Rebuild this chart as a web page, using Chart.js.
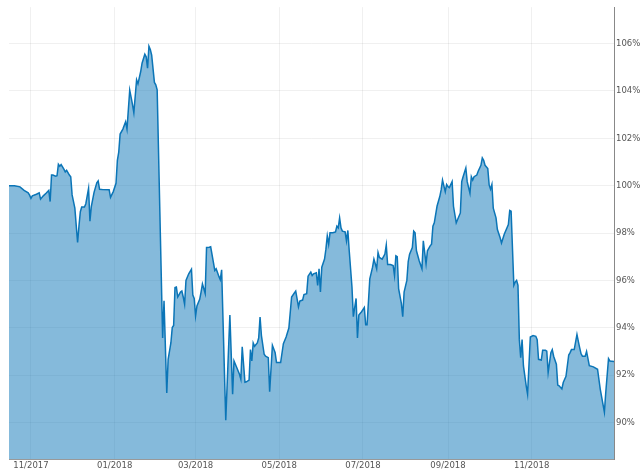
<!DOCTYPE html>
<html>
<head>
<meta charset="utf-8">
<script src="https://cdn.jsdelivr.net/npm/chart.js@4/dist/chart.umd.min.js"></script>
<style>
  html, body { margin: 0; padding: 0; background: #fff; }
  #wrap { width: 640px; height: 474px; }
</style>
</head>
<body>
<div id="wrap"><canvas id="chart" width="640" height="474"></canvas></div>
<script>
// daily index values (start = 100%)
const dates = [
    '2017-10-16','2017-10-20','2017-10-24','2017-10-27','2017-10-30','2017-10-31','2017-11-01','2017-11-02','2017-11-05','2017-11-07',
    '2017-11-08','2017-11-10','2017-11-12','2017-11-14','2017-11-15','2017-11-16','2017-11-17','2017-11-19','2017-11-20','2017-11-21',
    '2017-11-22','2017-11-23','2017-11-25','2017-11-26','2017-11-27','2017-11-29','2017-11-30','2017-12-01','2017-12-03','2017-12-05',
    '2017-12-06','2017-12-07','2017-12-08','2017-12-10','2017-12-11','2017-12-13','2017-12-14','2017-12-15','2017-12-17','2017-12-19',
    '2017-12-20','2017-12-21','2017-12-23','2017-12-28','2017-12-29','2017-12-31','2018-01-02','2018-01-03','2018-01-04','2018-01-05',
    '2018-01-07','2018-01-09','2018-01-10','2018-01-12','2018-01-14','2018-01-15','2018-01-17','2018-01-18','2018-01-20','2018-01-21',
    '2018-01-23','2018-01-24','2018-01-25','2018-01-26','2018-01-27','2018-01-28','2018-01-30','2018-01-31','2018-02-01','2018-02-05',
    '2018-02-06','2018-02-08','2018-02-09','2018-02-11','2018-02-12','2018-02-13','2018-02-14','2018-02-15','2018-02-16','2018-02-18',
    '2018-02-19','2018-02-20','2018-02-21','2018-02-22','2018-02-24','2018-02-26','2018-02-27','2018-02-28','2018-03-01','2018-03-02',
    '2018-03-04','2018-03-05','2018-03-06','2018-03-08','2018-03-09','2018-03-11','2018-03-12','2018-03-14','2018-03-15','2018-03-16',
    '2018-03-18','2018-03-19','2018-03-20','2018-03-23','2018-03-26','2018-03-28','2018-03-29','2018-03-31','2018-04-02','2018-04-03',
    '2018-04-04','2018-04-06','2018-04-07','2018-04-09','2018-04-10','2018-04-11','2018-04-12','2018-04-13','2018-04-15','2018-04-16',
    '2018-04-17','2018-04-18','2018-04-20','2018-04-21','2018-04-23','2018-04-24','2018-04-26','2018-04-28','2018-04-29','2018-05-02',
    '2018-05-04','2018-05-06','2018-05-08','2018-05-10','2018-05-12','2018-05-13','2018-05-15','2018-05-16','2018-05-18','2018-05-19',
    '2018-05-21','2018-05-22','2018-05-24','2018-05-25','2018-05-26','2018-05-28','2018-05-29','2018-05-30','2018-05-31','2018-06-01',
    '2018-06-03','2018-06-04','2018-06-05','2018-06-06','2018-06-07','2018-06-09','2018-06-11','2018-06-12','2018-06-13','2018-06-14',
    '2018-06-15','2018-06-16','2018-06-18','2018-06-19','2018-06-20','2018-06-21','2018-06-23','2018-06-24','2018-06-26','2018-06-27',
    '2018-06-28','2018-06-30','2018-07-02','2018-07-03','2018-07-04','2018-07-06','2018-07-08','2018-07-09','2018-07-11','2018-07-12',
    '2018-07-13','2018-07-15','2018-07-17','2018-07-18','2018-07-19','2018-07-21','2018-07-23','2018-07-24','2018-07-25','2018-07-26',
    '2018-07-27','2018-07-29','2018-07-30','2018-07-31','2018-08-02','2018-08-03','2018-08-04','2018-08-06','2018-08-07','2018-08-08',
    '2018-08-09','2018-08-11','2018-08-13','2018-08-14','2018-08-16','2018-08-17','2018-08-19','2018-08-20','2018-08-21','2018-08-22',
    '2018-08-24','2018-08-26','2018-08-27','2018-08-28','2018-08-30','2018-08-31','2018-09-01','2018-09-02','2018-09-04','2018-09-05',
    '2018-09-07','2018-09-08','2018-09-10','2018-09-11','2018-09-12','2018-09-14','2018-09-15','2018-09-17','2018-09-18','2018-09-19',
    '2018-09-20','2018-09-22','2018-09-23','2018-09-25','2018-09-26','2018-09-27','2018-09-28','2018-09-30','2018-10-01','2018-10-02',
    '2018-10-03','2018-10-04','2018-10-06','2018-10-07','2018-10-09','2018-10-10','2018-10-12','2018-10-15','2018-10-16','2018-10-17',
    '2018-10-19','2018-10-20','2018-10-21','2018-10-22','2018-10-23','2018-10-24','2018-10-25','2018-10-26','2018-10-28','2018-10-29',
    '2018-10-31','2018-11-02','2018-11-04','2018-11-05','2018-11-06','2018-11-08','2018-11-09','2018-11-11','2018-11-12','2018-11-13',
    '2018-11-15','2018-11-16','2018-11-17','2018-11-19','2018-11-20','2018-11-21','2018-11-23','2018-11-24','2018-11-26','2018-11-28',
    '2018-11-29','2018-11-30','2018-12-01','2018-12-02','2018-12-04','2018-12-05','2018-12-06','2018-12-07','2018-12-08','2018-12-10',
    '2018-12-11','2018-12-13','2018-12-16','2018-12-19','2018-12-21','2018-12-24','2018-12-25','2018-12-27','2018-12-28','2018-12-31'
];
const values = [
    100.00,100.00,99.95,99.80,99.70,99.60,99.47,99.57,99.64,99.70,
    99.43,99.57,99.68,99.80,99.33,100.45,100.45,100.40,100.42,100.90,
    100.82,100.89,100.70,100.58,100.65,100.45,100.38,99.61,99.05,97.60,
    98.30,98.90,99.10,99.10,99.24,99.89,98.50,99.12,99.72,100.12,
    100.20,99.85,99.84,99.83,99.51,99.75,100.10,101.07,101.42,102.18,
    102.39,102.70,102.39,104.03,103.43,103.08,104.47,104.30,104.82,105.17,
    105.55,105.44,104.96,105.89,105.75,105.51,104.36,104.26,104.05,93.57,
    95.14,91.25,92.67,93.36,94.01,94.10,95.70,95.72,95.30,95.51,
    95.55,95.30,95.00,96.00,96.28,96.47,95.38,95.24,94.50,94.92,
    95.20,95.51,95.85,95.45,97.39,97.40,97.42,96.76,96.42,96.49,
    96.17,96.03,96.45,90.10,94.54,91.20,92.60,92.32,92.04,91.83,
    93.20,91.70,91.72,91.79,93.08,92.60,93.36,93.22,93.36,93.57,
    94.45,93.67,92.88,92.80,92.74,91.30,93.26,92.95,92.53,92.53,
    93.33,93.61,93.99,95.30,95.47,95.55,94.89,95.13,95.17,95.40,
    95.44,96.18,96.35,96.21,96.28,96.32,95.79,96.49,95.51,96.56,
    96.90,97.32,97.88,97.53,98.01,98.01,98.05,98.29,98.22,98.64,
    98.22,98.08,98.05,97.67,98.11,97.25,95.72,94.47,95.24,93.57,
    94.54,94.68,94.86,94.13,94.13,96.07,96.56,96.90,96.49,97.18,
    96.97,96.90,97.11,97.49,96.67,96.67,96.63,96.21,97.04,97.00,
    95.65,95.03,94.47,95.51,96.00,96.80,97.11,97.39,98.08,98.01,
    97.25,96.83,96.49,97.67,96.70,97.25,97.46,97.53,98.29,98.43,
    99.13,99.54,99.82,100.24,99.75,100.05,99.96,99.92,100.17,99.13,
    98.43,98.57,98.85,100.17,100.38,100.75,100.17,99.68,100.38,100.24,
    100.38,100.45,100.61,100.86,101.17,101.07,100.86,100.72,100.03,99.85,
    100.05,99.05,98.64,98.15,97.80,97.58,97.95,98.36,98.95,98.92,
    95.79,95.93,96.00,95.79,93.50,92.74,93.50,92.39,91.55,91.20,
    93.61,93.67,93.64,93.50,92.67,92.64,93.05,93.05,93.01,92.11,
    92.95,93.08,92.80,92.46,91.58,91.55,91.42,91.69,91.95,92.85,
    92.95,93.08,93.08,93.08,93.72,93.43,93.15,92.90,92.80,92.80,
    93.00,92.40,92.35,92.25,91.40,90.44,91.28,92.70,92.60,92.58
];

const firstDate = '2017-10-16';
const lastDate = '2018-12-31';
const tickDates = ['2017-11-01', '2018-01-01', '2018-03-01', '2018-05-01', '2018-07-01', '2018-09-01', '2018-11-01'];
const tickLabels = ['11/2017', '01/2018', '03/2018', '05/2018', '07/2018', '09/2018', '11/2018'];
const yTicks = [90, 92, 94, 96, 98, 100, 102, 104, 106];

function toTime(s) {
    const p = s.split('-');
    return Date.UTC(+p[0], +p[1] - 1, +p[2]);
}

const points = dates.map((d, i) => ({ x: toTime(d), y: values[i] }));

const lineColor = 'rgb(11, 117, 183)';
const fillColor = 'rgba(11, 117, 183, 0.5)';
const tickFont = { family: 'DejaVu Sans', size: 8.5 };

new Chart(document.getElementById('chart').getContext('2d'), {
    type: 'line',
    data: {
        datasets: [{
            data: points,
            borderColor: lineColor,
            backgroundColor: fillColor,
            borderWidth: 1.5,
            fill: 'start',
            pointRadius: 0,
            tension: 0
        }]
    },
    options: {
        responsive: false,
        animation: false,
        layout: { padding: { left: 9, top: 3, right: 0, bottom: 0 } },
        plugins: {
            legend: { display: false },
            tooltip: { enabled: false }
        },
        scales: {
            x: {
                type: 'linear',
                min: toTime(firstDate),
                max: toTime(lastDate),
                afterBuildTicks: (scale) => {
                    scale.ticks = tickDates.map(d => ({ value: toTime(d) }));
                },
                afterFit: (scale) => { scale.height = 15; },
                ticks: {
                    autoSkip: false,
                    maxRotation: 0,
                    padding: 2,
                    color: '#555',
                    font: tickFont,
                    callback: (value, index) => tickLabels[index]
                },
                grid: { color: 'rgba(0,0,0,0.06)', drawTicks: false },
                border: { display: true, color: '#999', width: 1 }
            },
            y: {
                position: 'right',
                min: 88.46,
                max: 107.54,
                afterBuildTicks: (scale) => {
                    scale.ticks = yTicks.map(v => ({ value: v }));
                },
                afterFit: (scale) => { scale.width = 26; },
                ticks: {
                    padding: 2,
                    color: '#555',
                    font: tickFont,
                    callback: (value) => value + '%'
                },
                grid: { color: 'rgba(0,0,0,0.06)', drawTicks: false },
                border: { display: true, color: '#888', width: 1 }
            }
        }
    }
});
</script>
</body>
</html>
